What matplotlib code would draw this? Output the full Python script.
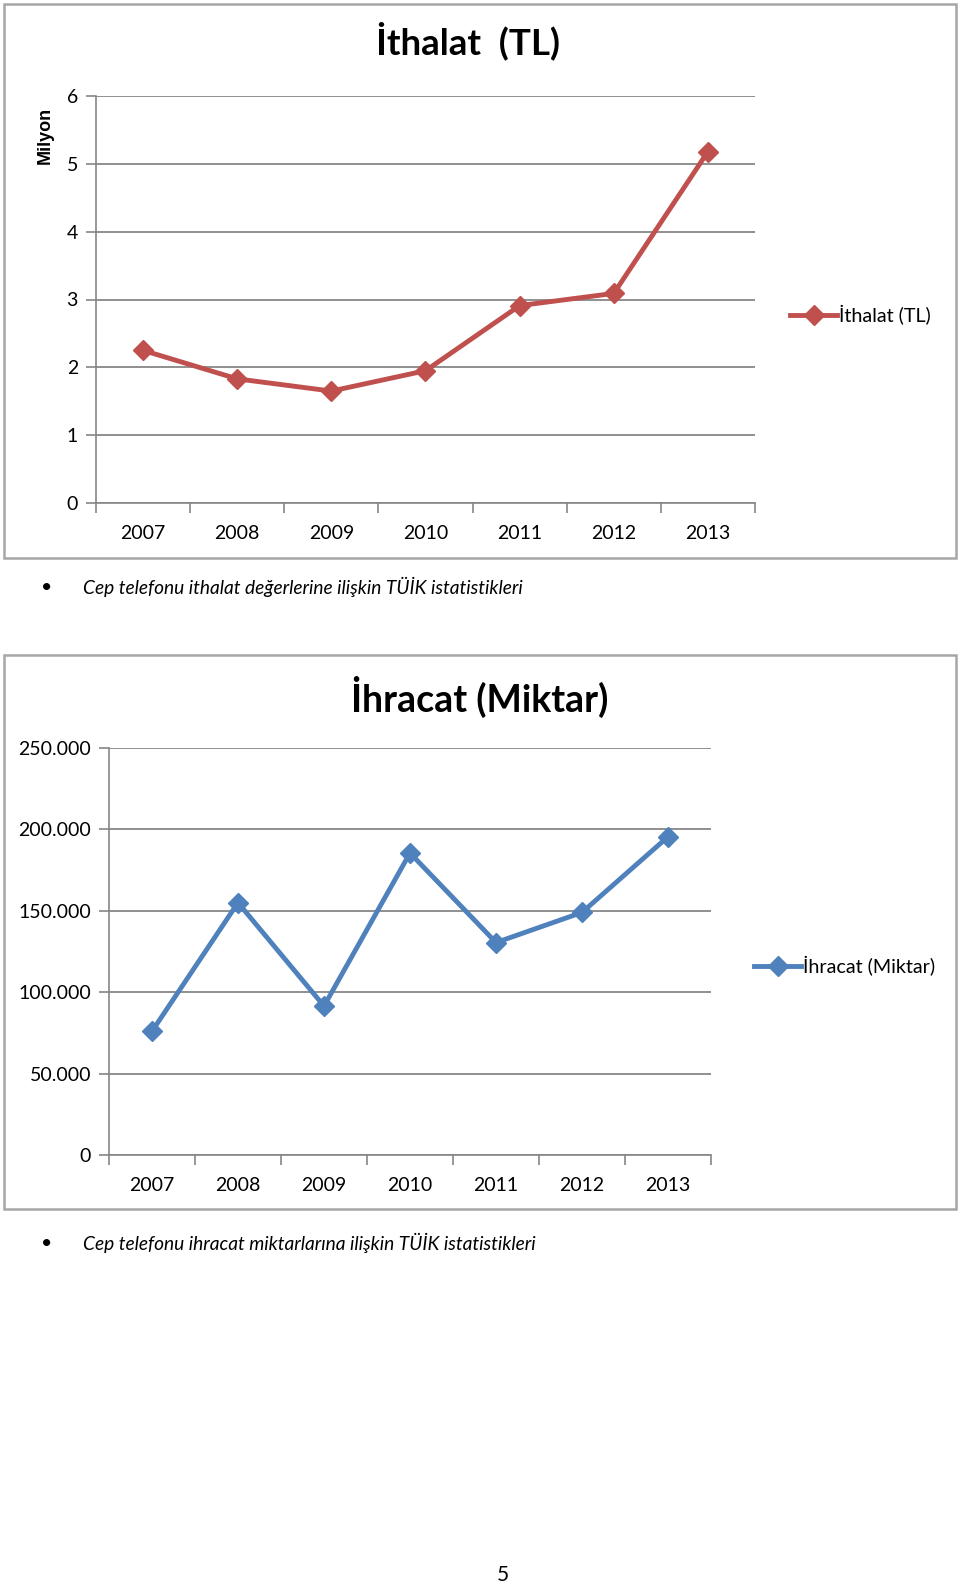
import matplotlib.pyplot as plt
from matplotlib.patches import Rectangle

plt.rcParams['font.family'] = ['Lato', 'DejaVu Sans']

years = ["2007", "2008", "2009", "2010", "2011", "2012", "2013"]
ithalat = [2.25, 1.83, 1.65, 1.95, 2.91, 3.09, 5.18]          # milyon TL
ihracat = [76000, 155000, 91500, 185500, 130500, 149000, 195500]  # adet

W, H = 960, 1586
fig = plt.figure(figsize=(W / 100, H / 100), dpi=100)

grid_c = "#878787"
axis_c = "#868686"


def box(x0, y0, x1, y1):
    # chart frame in pixel coords (y from top)
    fig.patches.append(Rectangle((x0 / W, 1 - y1 / H), (x1 - x0) / W, (y1 - y0) / H,
                                 transform=fig.transFigure, fill=False,
                                 edgecolor="#A6A6A6", lw=1.8))


def make_axes(x0, y0, x1, y1):
    return fig.add_axes([x0 / W, 1 - y1 / H, (x1 - x0) / W, (y1 - y0) / H])


def style(ax, yticks, ylabels):
    x = range(len(years))
    ax.set_xlim(-0.5, len(years) - 0.5)
    ax.set_xticks([i - 0.5 for i in range(len(years) + 1)])
    ax.set_xticklabels([])
    ax.set_xticks(list(x), minor=True)
    ax.set_xticklabels(years, minor=True, fontsize=14)
    ax.tick_params(axis="x", which="minor", length=0, pad=16)
    ax.tick_params(axis="x", which="major", length=7, color=axis_c, width=1.2)
    ax.set_yticks(yticks)
    ax.set_yticklabels(ylabels, fontsize=14)
    ax.set_ylim(yticks[0], yticks[-1])
    ax.tick_params(axis="y", length=7, color=axis_c, width=1.2, pad=6)
    for s in ["top", "right"]:
        ax.spines[s].set_visible(False)
    for s in ["left", "bottom"]:
        ax.spines[s].set_color(axis_c)
        ax.spines[s].set_linewidth(1.2)
    ax.grid(axis="y", color=grid_c, lw=1.3)
    ax.set_axisbelow(True)


# --- İthalat (TL) ---
box(4, 4, 956, 558)
ax1 = make_axes(96, 96, 755, 503)
ax1.plot(range(len(years)), ithalat, color="#C0504D", lw=3.5, marker="D",
         markersize=10, label="İthalat (TL)", clip_on=False)
style(ax1, [0, 1, 2, 3, 4, 5, 6], ["0", "1", "2", "3", "4", "5", "6"])
fig.text(468 / W, 1 - 41 / H, "İthalat  (TL)", ha="center", va="center",
         fontsize=26.5, fontweight="bold")
fig.text(45 / W, 1 - 135 / H, "Milyon", rotation=90, ha="center", va="center",
         fontsize=13, fontweight="bold", family=["Liberation Sans", "DejaVu Sans"])
ax1.legend(loc="center left", bbox_to_anchor=(780 / W, 1 - 315 / H),
           bbox_transform=fig.transFigure, frameon=False, fontsize=14.2,
           handlelength=2.4, handletextpad=0.1, borderpad=0)

fig.text(47 / W, 1 - 587 / H, "•", ha="center", va="center", fontsize=14)
fig.text(83 / W, 1 - 587 / H, "Cep telefonu ithalat değerlerine ilişkin TÜİK istatistikleri",
         ha="left", va="center", fontsize=13.8, style="italic")

# --- İhracat (Miktar) ---
box(4, 655, 956, 1209)
ax2 = make_axes(109, 748, 711, 1155)
ax2.plot(range(len(years)), ihracat, color="#4F81BD", lw=3.5, marker="D",
         markersize=10, label="İhracat (Miktar)", clip_on=False)
style(ax2, [0, 50000, 100000, 150000, 200000, 250000],
      ["0", "50.000", "100.000", "150.000", "200.000", "250.000"])
fig.text(480 / W, 1 - 697 / H, "İhracat (Miktar)", ha="center", va="center",
         fontsize=27, fontweight="bold")
ax2.legend(loc="center left", bbox_to_anchor=(744 / W, 1 - 966 / H),
           bbox_transform=fig.transFigure, frameon=False, fontsize=14.2,
           handlelength=2.4, handletextpad=0.1, borderpad=0)

fig.text(47 / W, 1 - 1243 / H, "•", ha="center", va="center", fontsize=14)
fig.text(83 / W, 1 - 1243 / H, "Cep telefonu ihracat miktarlarına ilişkin TÜİK istatistikleri",
         ha="left", va="center", fontsize=13.8, style="italic")

fig.text(503 / W, 1 - 1575 / H, "5", ha="center", va="center", fontsize=15)

fig.savefig("out.png", dpi=100, facecolor="white")
